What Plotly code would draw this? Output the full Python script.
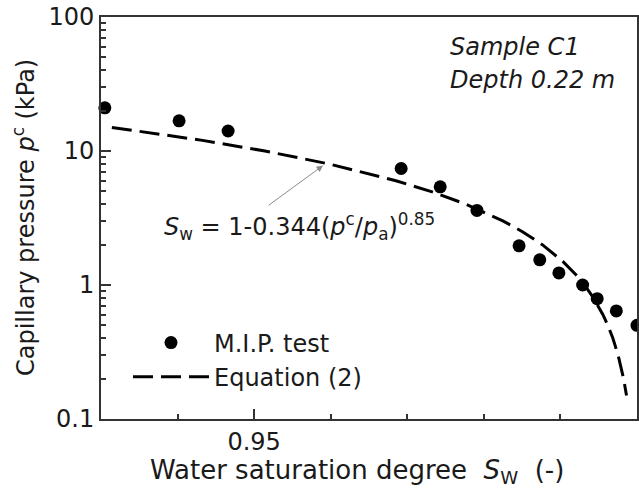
import math
import plotly.graph_objects as go

# M.I.P. test data
mip_sw = [0.9305, 0.9402, 0.9466, 0.9692, 0.9743, 0.9791, 0.9846, 0.9873, 0.9898, 0.9929, 0.9948, 0.9973, 1.0000]
mip_pc = [21.0, 16.8, 14.1, 7.4, 5.4, 3.6, 1.96, 1.54, 1.23, 1.00, 0.79, 0.64, 0.50]

# Equation (2) curve points
eq_pc = [15, 12, 10, 8, 6, 5, 4, 3, 2.5, 2, 1.5, 1.2, 1.0, 0.8, 0.6, 0.5, 0.4, 0.3, 0.2, 0.15]
eq_sw = [0.93142, 0.94326, 0.95141, 0.95980, 0.96852, 0.97304, 0.97770, 0.98254, 0.98504,
         0.98763, 0.99031, 0.99199, 0.99314, 0.99432, 0.99555, 0.99619, 0.99685, 0.99753,
         0.99825, 0.99863]

# point on the curve that the label arrow indicates
arrow_sw = 0.9590
arrow_pc = 7.8

x_tickvals = [0.95, 1.0]
x_ticktext = ["0.95", "1"]
y_tickvals = [0.1, 1, 10, 100]
y_ticktext = ["0.1", "1", "10", "100"]

FONT = "DejaVu Sans, Liberation Sans, Arial, sans-serif"
FS = 24

# plot-area geometry in pixels (for paper-coordinate text placement)
L, R, T, B = 101, 637, 17, 419
def px(xp):
    return (xp - L) / (R - L)
def py(yp):
    return (B - yp) / (B - T)

fig = go.Figure()
fig.add_trace(go.Scatter(x=mip_sw, y=mip_pc, mode="markers", name="M.I.P. test",
                         marker=dict(color="black", size=13), cliponaxis=False))
fig.add_trace(go.Scatter(x=eq_sw, y=eq_pc, mode="lines", name="Equation (2)",
                         line=dict(color="black", width=3, dash="20px,8px")))

fig.update_layout(
    width=639, height=490,
    margin=dict(l=L, r=639 - R, t=T, b=490 - B),
    paper_bgcolor="white", plot_bgcolor="white",
    font=dict(family=FONT, size=FS, color="#1a1a1a"),
    showlegend=True,
    legend=dict(x=px(128), y=0.245, xanchor="left", yanchor="top",
                bgcolor="rgba(0,0,0,0)", font=dict(size=FS), itemwidth=76,
                tracegroupgap=0),
)
fig.update_xaxes(
    range=[0.93, 1.0], tickvals=x_tickvals, ticktext=x_ticktext,
    ticks="inside", ticklen=10, tickwidth=1.5, tickcolor="#333",
    showline=True, linecolor="#333", linewidth=2, mirror=True,
    showgrid=False, zeroline=False, automargin=False,
    minor=dict(ticks="inside", ticklen=5, tickwidth=1.5, tickcolor="#333", dtick=0.01, tick0=0.93, showgrid=False),
    tickfont=dict(size=FS),
)
fig.update_yaxes(
    type="log", range=[-1, 2], tickvals=y_tickvals, ticktext=y_ticktext,
    ticks="inside", ticklen=10, tickwidth=1.5, tickcolor="#333",
    showline=True, linecolor="#333", linewidth=2, mirror=True,
    showgrid=False, zeroline=False, automargin=False,
    minor=dict(ticks="inside", ticklen=5, tickwidth=1.5, tickcolor="#333", dtick="D1", showgrid=False),
    tickfont=dict(size=FS),
)

# axis titles
fig.add_annotation(xref="paper", yref="paper", x=px(357), y=py(471),
                   xanchor="center", yanchor="middle", showarrow=False,
                   text="Water saturation degree\u00a0\u00a0<i>S</i><sub>W</sub>\u00a0\u00a0(-)",
                   font=dict(size=26))
fig.add_annotation(xref="paper", yref="paper", x=px(24), y=py(218),
                   xanchor="center", yanchor="middle", showarrow=False, textangle=-90,
                   text="Capillary pressure <i>p</i><sup>c</sup> (kPa)", font=dict(size=FS))

fig.add_annotation(xref="paper", yref="paper", x=px(448), y=py(47),
                   xanchor="left", yanchor="middle", showarrow=False,
                   text="<i>Sample C1</i>", font=dict(size=FS))
fig.add_annotation(xref="paper", yref="paper", x=px(448), y=py(80),
                   xanchor="left", yanchor="middle", showarrow=False,
                   text="<i>Depth 0.22 m</i>", font=dict(size=FS))
# equation label
fig.add_annotation(xref="paper", yref="paper", x=px(162), y=py(226),
                   xanchor="left", yanchor="middle", showarrow=False,
                   text="<i>S</i><sub>w</sub> = 1-0.344(<i>p</i><sup>c</sup>/<i>p</i><sub>a</sub>)<sup>0.85</sup>",
                   font=dict(size=FS))
# pointer arrow from label to curve (log axis -> annotation y in log10 units)
fig.add_annotation(x=arrow_sw, y=math.log10(arrow_pc), xref="x", yref="y",
                   ax=267 - 323, ay=208 - 167, showarrow=True, arrowhead=2, arrowsize=1.3,
                   arrowwidth=1, arrowcolor="#8a8a8a", text="\u200b", font=dict(size=1), standoff=0)

fig.write_html("out.html")
